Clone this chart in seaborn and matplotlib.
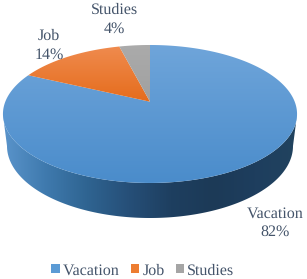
import numpy as np
import matplotlib
matplotlib.use("Agg")
import matplotlib.pyplot as plt
from matplotlib.colors import LinearSegmentedColormap
from matplotlib.patches import Polygon, Patch
import seaborn as sns

categories = ["Vacation", "Job", "Studies"]
shares = [82, 14, 4]
label_text = ["Vacation\n82%", "Job\n14%", "Studies\n4%"]
legend_colors = ["#5B9BD5", "#ED7D31", "#A5A5A5"]
top_shades = [("#6FA5DA", "#4A8CCB"), ("#F08C50", "#E56C1C"), ("#ABABAB", "#A0A0A0")]
side_shades = ["#5A94CB", "#3F7AAE", "#2F6491", "#264F78", "#1E3F60", "#1C3A57", "#1E3E5E", "#21435F"]
text_color = "#44546A"

sns.set_theme(style="white")
plt.rcParams["font.family"] = ["Liberation Serif", "DejaVu Serif"]
plt.rcParams["text.hinting"] = "no_hinting"
plt.rcParams["text.hinting_factor"] = 1

fig = plt.figure(figsize=(3.07, 2.79), dpi=100)
ax = fig.add_axes([0, 0, 1, 1])
ax.set_xlim(0, 307)
ax.set_ylim(279, 0)
ax.axis("off")

# perspective projection of the tilted disc
apex_x, apex_y = 150.0, 101.7
persp, ky, kx = 0.178, 66.8, 144.7


def project(theta):
    u, v = np.sin(theta), np.cos(theta)
    d = 1 + persp * v
    return apex_x + kx * u / d, apex_y - ky * v / d


def shaded(poly_xy, colors, extent, horizontal=False, z=2):
    cmap = LinearSegmentedColormap.from_list("s", colors)
    g = np.linspace(0, 1, 256)
    g = g[None, :] if horizontal else g[:, None]
    im = ax.imshow(g, cmap=cmap, extent=extent, aspect="auto", zorder=z, interpolation="bilinear")
    clip = Polygon(poly_xy, closed=True, transform=ax.transData, fc="none", ec="none")
    ax.add_patch(clip)
    im.set_clip_path(clip)


# side wall
top_t = np.linspace(np.pi / 2 + 0.19, 3 * np.pi / 2 - 0.19, 200)
tx, ty = project(top_t)
phi = np.linspace(0, np.pi, 200)
bx = 150 + 143 * np.cos(phi)
by = 146 + 72 * np.sin(phi)
wall = np.vstack([np.column_stack([tx, ty]), np.column_stack([bx[::-1], by[::-1]])])
shaded(wall, side_shades, (3, 297, 225, 100), horizontal=True, z=1)

# top surface, clockwise from twelve o'clock
fractions = np.array(shares) / np.sum(shares)
edges = np.concatenate([[0], np.cumsum(fractions)]) * 2 * np.pi
for i in range(len(shares)):
    t = np.linspace(edges[i], edges[i + 1], 240)
    x, y = project(t)
    pts = np.vstack([[apex_x, apex_y], np.column_stack([x, y])])
    ext = (0, 307, 184, 44) if i == 0 else (0, 307, 102, 44)
    shaded(pts, top_shades[i], ext, z=3)

# data labels
label_pos = [(275, 223), (49, 45.5), (114, 19.5)]
for txt, (lx, ly) in zip(label_text, label_pos):
    ax.text(lx, ly, txt, ha="center", va="center", fontsize=11.2, color=text_color,
            linespacing=1.32, zorder=5)

handles = [Patch(fc=c, ec="none") for c in legend_colors]
ax.legend(handles, categories, ncol=3, loc="center", bbox_to_anchor=(143, 270.5),
          bbox_transform=ax.transData, frameon=False, fontsize=11.2, labelcolor=text_color,
          handlelength=0.52, handleheight=0.52, handletextpad=0.2, columnspacing=0.75,
          borderpad=0, borderaxespad=0)

fig.savefig("out.png", dpi=100, facecolor="white")
